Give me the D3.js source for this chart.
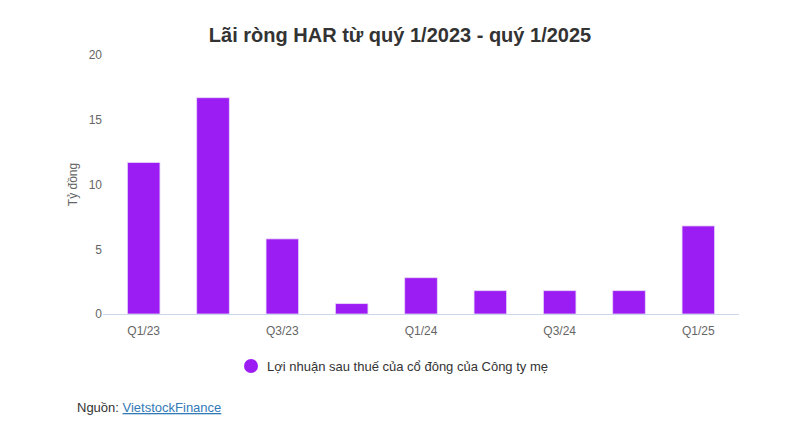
<!DOCTYPE html>
<html>
<head>
<meta charset="utf-8">
<script src="https://cdn.jsdelivr.net/npm/d3@7/dist/d3.min.js"></script>
<style>
  body { margin: 0; background: #fff; }
  svg { font-family: "Liberation Sans", Arial, sans-serif; }
</style>
</head>
<body>
<svg id="chart" width="786" height="440"></svg>
<script>
// data
const quarters = ['Q1/23', 'Q2/23', 'Q3/23', 'Q4/23', 'Q1/24', 'Q2/24', 'Q3/24', 'Q4/24', 'Q1/25'];
const profit = [11.7, 16.7, 5.8, 0.8, 2.8, 1.8, 1.8, 1.8, 6.8];
const yTicks = [0, 5, 10, 15, 20];
const xLabels = ['Q1/23', 'Q3/23', 'Q1/24', 'Q3/24', 'Q1/25'];

const title = 'Lãi ròng HAR từ quý 1/2023 - quý 1/2025';
const seriesName = 'Lợi nhuận sau thuế của cổ đông của Công ty mẹ';
const barColor = '#9c1cf4';

const svg = d3.select('#chart');
const margin = { top: 55, right: 53, bottom: 126, left: 109 };
const width = 786 - margin.left - margin.right,
  height = 440 - margin.top - margin.bottom;

const g = svg.append('g').attr('transform', 'translate(' + margin.left + ',' + margin.top + ')');

const x = d3.scaleBand().domain(quarters).range([0, width]).paddingInner(0.53).paddingOuter(0.265);
const y = d3.scaleLinear().domain([0, 20]).range([height, 0]);

// title
svg.append('text')
  .attr('x', 400).attr('y', 42)
  .attr('text-anchor', 'middle')
  .attr('font-size', 20).attr('font-weight', 'bold')
  .attr('fill', '#333')
  .text(title);

// y axis (labels only, no gridlines)
const yAxis = g.append('g').call(d3.axisLeft(y).tickValues(yTicks).tickSize(0).tickPadding(7));
yAxis.select('.domain').remove();
yAxis.selectAll('text').attr('font-size', 12).attr('fill', '#666').attr('font-family', null);

svg.append('text')
  .attr('transform', 'translate(77,' + (margin.top + height / 2) + ') rotate(-90)')
  .attr('text-anchor', 'middle')
  .attr('font-size', 12).attr('fill', '#666')
  .text('Tỷ đồng');

// bars
g.selectAll('rect.bar')
  .data(profit)
  .enter()
  .append('rect')
  .attr('class', 'bar')
  .attr('x', (d, i) => x(quarters[i]))
  .attr('y', d => y(d))
  .attr('width', x.bandwidth())
  .attr('height', d => y(0) - y(d))
  .attr('fill', barColor)
  .attr('stroke', '#e8d8f8')
  .attr('stroke-width', 0.8);

// x axis
const xAxis = g.append('g')
  .attr('transform', 'translate(0,' + height + ')')
  .call(d3.axisBottom(x).tickValues(xLabels).tickSize(0).tickPadding(12));
xAxis.select('.domain').attr('stroke', '#ccd6eb').attr('d', 'M-6,0.5H' + (width + 6));
xAxis.selectAll('text').attr('font-size', 12).attr('fill', '#666').attr('font-family', null);

// legend
const legend = svg.append('g').attr('transform', 'translate(251,366)');
legend.append('circle').attr('r', 7).attr('fill', barColor);
legend.append('text')
  .attr('x', 16).attr('y', 5)
  .attr('font-size', 13).attr('fill', '#333')
  .text(seriesName);

// source line
const src = svg.append('text').attr('x', 77).attr('y', 412).attr('font-size', 13);
src.append('tspan').attr('fill', '#333').text('Nguồn: ');
src.append('tspan').attr('fill', '#337ab7').attr('text-decoration', 'underline').text('VietstockFinance');
</script>
</body>
</html>
